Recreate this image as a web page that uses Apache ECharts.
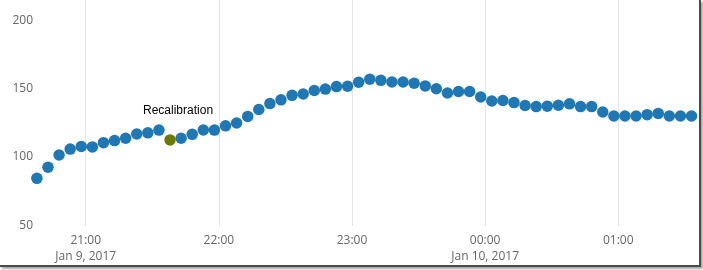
<!DOCTYPE html>
<html>
<head>
<meta charset="utf-8">
<script src="https://cdn.jsdelivr.net/npm/echarts@6/dist/echarts.min.js"></script>
<style>
  html, body { margin: 0; padding: 0; background: #fff; }
  #frame { position: absolute; left: 0; top: 0; width: 699px; height: 265px;
           border-right: 2px solid #4a4a4a; border-bottom: 2px solid #4a4a4a;
           box-shadow: 2px 2px 2px rgba(0,0,0,0.35); background: #fff; overflow: hidden; }
  #chart { width: 699px; height: 265px; }
</style>
</head>
<body>
<div id="frame"><div id="chart"></div></div>
<script>
// ---- data ----
const times = [
  '2017-01-09 20:38','2017-01-09 20:43','2017-01-09 20:48','2017-01-09 20:53','2017-01-09 20:58',
  '2017-01-09 21:03','2017-01-09 21:08','2017-01-09 21:13','2017-01-09 21:18','2017-01-09 21:23',
  '2017-01-09 21:28','2017-01-09 21:33','2017-01-09 21:38','2017-01-09 21:43','2017-01-09 21:48',
  '2017-01-09 21:53','2017-01-09 21:58','2017-01-09 22:03','2017-01-09 22:08','2017-01-09 22:13',
  '2017-01-09 22:18','2017-01-09 22:23','2017-01-09 22:28','2017-01-09 22:33','2017-01-09 22:38',
  '2017-01-09 22:43','2017-01-09 22:48','2017-01-09 22:53','2017-01-09 22:58','2017-01-09 23:03',
  '2017-01-09 23:08','2017-01-09 23:13','2017-01-09 23:18','2017-01-09 23:23','2017-01-09 23:28',
  '2017-01-09 23:33','2017-01-09 23:38','2017-01-09 23:43','2017-01-09 23:48','2017-01-09 23:53',
  '2017-01-09 23:58','2017-01-10 00:03','2017-01-10 00:08','2017-01-10 00:13','2017-01-10 00:18',
  '2017-01-10 00:23','2017-01-10 00:28','2017-01-10 00:33','2017-01-10 00:38','2017-01-10 00:43',
  '2017-01-10 00:48','2017-01-10 00:53','2017-01-10 00:58','2017-01-10 01:03','2017-01-10 01:08',
  '2017-01-10 01:13','2017-01-10 01:18','2017-01-10 01:23','2017-01-10 01:28','2017-01-10 01:33'
];
const values = [
  84.3, 92.4, 101.4, 105.7, 107.6,
  107.3, 110.4, 111.9, 113.6, 116.7,
  117.6, 119.6, 112.4, 113.6, 116.5,
  119.7, 119.6, 122.7, 124.8, 129.6,
  134.7, 139.0, 141.7, 145.0, 146.0,
  148.6, 149.6, 151.4, 151.7, 154.6,
  156.8, 156.0, 154.8, 154.8, 153.9,
  151.9, 149.8, 146.7, 147.8, 147.8,
  143.8, 140.9, 141.2, 139.7, 137.6,
  136.8, 137.1, 137.8, 138.8, 136.8,
  136.8, 132.8, 129.9, 129.9, 129.9,
  130.9, 131.8, 129.9, 129.9, 129.9
];
const eventTimes = ['2017-01-09 21:38'];
const eventLabels = ['Recalibration'];

const xTickTimes = ['2017-01-09 21:00','2017-01-09 22:00','2017-01-09 23:00','2017-01-10 00:00','2017-01-10 01:00'];
const xTickLabels = ['21:00\nJan 9, 2017','22:00','23:00','00:00\nJan 10, 2017','01:00'];
const yTickValues = [50, 100, 150, 200];

const xMin = '2017-01-09 20:37:36';
const xMax = '2017-01-10 01:36:22';
const yMin = 49.45;
const yMax = 214.75;

// ---- build ----
function ts(s) { return echarts.time.parse(s).getTime(); }
const xTickTs = xTickTimes.map(ts);
const eventTs = eventTimes.map(ts);

const data = times.map((t, i) => {
  const tt = ts(t);
  const ev = eventTs.indexOf(tt);
  if (ev >= 0) {
    return {
      value: [tt, values[i]],
      itemStyle: { color: '#6b7a00' },
      label: {
        show: true, position: 'top', formatter: eventLabels[ev],
        color: '#000', fontFamily: 'Liberation Sans, Arial, sans-serif', fontSize: 12,
        offset: [8, -12]
      }
    };
  }
  return [tt, values[i]];
});

const chart = echarts.init(document.getElementById('chart'), null, { renderer: 'canvas' });
chart.setOption({
  animation: false,
  backgroundColor: '#fff',
  grid: { left: 36, right: 0, top: 0, bottom: 35, containLabel: false },
  xAxis: {
    type: 'value',
    min: ts(xMin), max: ts(xMax),
    axisLine: { show: false },
    axisTick: { show: false, customValues: xTickTs },
    splitLine: { show: true, lineStyle: { color: '#e6e6e6', width: 1 } },
    axisLabel: {
      customValues: xTickTs,
      margin: 7,
      color: '#666',
      fontFamily: 'Open Sans, sans-serif',
      fontSize: 12,
      lineHeight: 16,
      formatter: function (v) {
        const k = xTickTs.indexOf(v);
        return k >= 0 ? xTickLabels[k] : '';
      }
    }
  },
  yAxis: {
    type: 'value',
    min: yMin, max: yMax,
    axisLine: { show: false },
    axisTick: { show: false, customValues: yTickValues },
    splitLine: { show: false },
    axisLabel: {
      customValues: yTickValues,
      margin: 3,
      color: '#666',
      fontFamily: 'Open Sans, sans-serif',
      fontSize: 12,
      padding: [2, 0, 0, 0]
    }
  },
  series: [{
    type: 'scatter',
    symbol: 'circle',
    symbolSize: 11.5,
    itemStyle: { color: '#1f77b4', opacity: 1 },
    data: data
  }]
});
</script>
</body>
</html>
